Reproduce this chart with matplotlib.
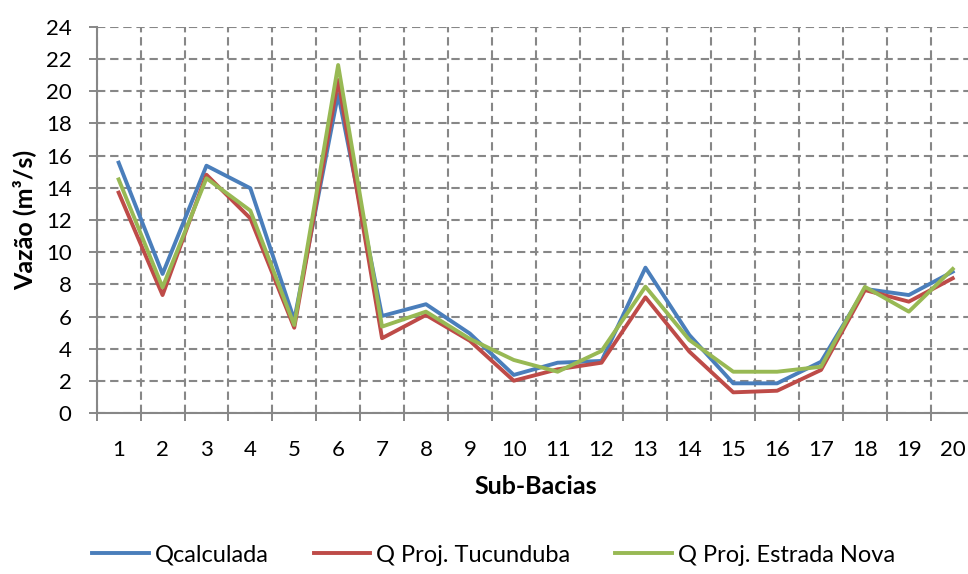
import numpy as np
import matplotlib.pyplot as plt
from matplotlib.ticker import MultipleLocator, FixedLocator

plt.rcParams['font.family'] = ['Lato', 'DejaVu Sans']

sub_bacias = [str(i) for i in range(1, 21)]
q_calculada = [15.56, 8.65, 15.37, 13.97, 5.8, 19.82, 6.04, 6.77, 4.95, 2.38,
               3.14, 3.25, 9.04, 4.86, 1.86, 1.86, 3.2, 7.72, 7.34, 8.79]
q_tucunduba = [13.7, 7.34, 14.81, 12.1, 5.31, 20.69, 4.66, 6.1, 4.5, 2.02,
               2.73, 3.14, 7.2, 3.83, 1.3, 1.4, 2.69, 7.65, 6.93, 8.38]
q_estrada_nova = [14.52, 7.82, 14.59, 12.58, 5.48, 21.62, 5.38, 6.31, 4.62, 3.31,
                  2.58, 3.87, 7.86, 4.55, 2.58, 2.58, 2.89, 7.85, 6.31, 8.96]

grey = '#878787'

fig = plt.figure(figsize=(9.68, 5.74), dpi=100)
ax = fig.add_axes([0.0999, 0.28, 0.907, 0.6735])

x = np.arange(1, len(sub_bacias) + 1)
ax.plot(x, q_calculada, color='#4A7EBB', lw=2.8, label='Qcalculada')
ax.plot(x, q_tucunduba, color='#BE4B48', lw=2.8, label='Q Proj. Tucunduba')
ax.plot(x, q_estrada_nova, color='#98B954', lw=2.8, label='Q Proj. Estrada Nova')

ax.set_xlim(0.5, len(sub_bacias) + 0.5)
ax.set_ylim(0, 24)
ax.yaxis.set_major_locator(MultipleLocator(2))

# category boundaries as major ticks, labels on minor ticks at centres
ax.xaxis.set_major_locator(FixedLocator(np.arange(0.5, len(sub_bacias) + 1, 1)))
ax.xaxis.set_major_formatter(plt.NullFormatter())
ax.xaxis.set_minor_locator(FixedLocator(x))
ax.set_xticklabels(sub_bacias, minor=True)
ax.tick_params(axis='x', which='major', length=6, width=1.4, color=grey)
ax.tick_params(axis='x', which='minor', length=0, pad=19, labelsize=16)
ax.tick_params(axis='y', length=6, width=1.4, color=grey, labelsize=16, pad=12)

ax.grid(True, which='major', color=grey, linestyle=(0, (4, 2.3)), lw=1.5)
ax.set_axisbelow(True)
for s in ['top', 'right']:
    ax.spines[s].set_visible(False)
for s in ['left', 'bottom']:
    ax.spines[s].set_color(grey)
    ax.spines[s].set_linewidth(1.5)

ax.set_xlabel('Sub-Bacias', fontsize=18, fontweight='bold', labelpad=11)
ax.set_ylabel('Vazão (m³/s)', fontsize=18, fontweight='bold', labelpad=7)

fig.legend(loc='center', bbox_to_anchor=(0.51, 0.033), ncol=3, frameon=False,
           fontsize=17, handlelength=2.4, columnspacing=1.9, handletextpad=0.25)

fig.savefig('out.png', dpi=100)
